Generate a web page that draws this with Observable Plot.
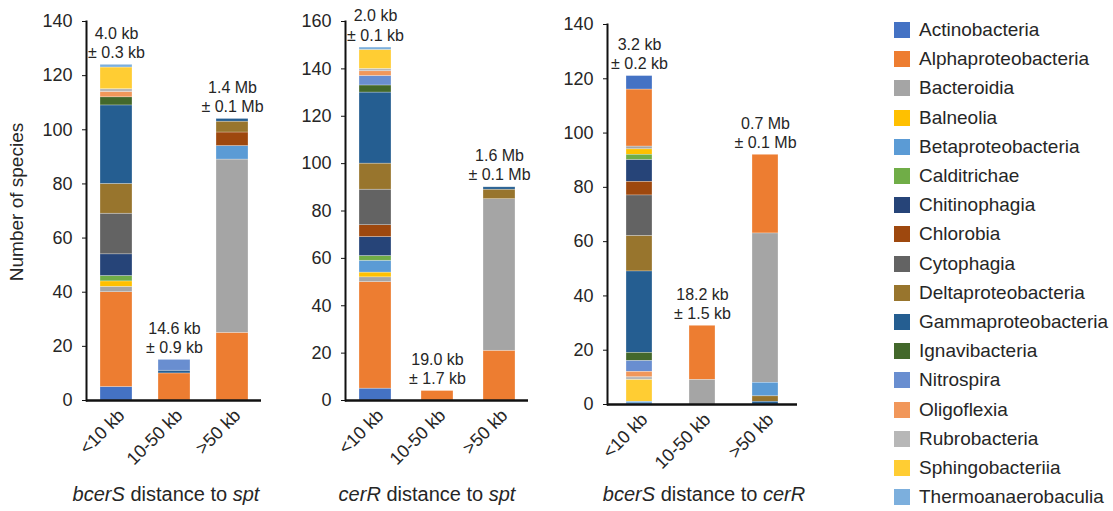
<!DOCTYPE html>
<html>
<head>
<meta charset="utf-8">
<script src="https://cdn.jsdelivr.net/npm/d3@7"></script>
<script src="https://cdn.jsdelivr.net/npm/@observablehq/plot@0.6"></script>
<style>
  body { margin: 0; background: #fff; font-family: "Liberation Sans", Arial, sans-serif; }
  #wrap { position: relative; width: 1113px; height: 511px; overflow: hidden; }
  .panel { position: absolute; top: 0; }
  #legend { position: absolute; left: 894px; top: 15.5px; color: #262626; font-size: 19px; }
  #legend .row { height: 29.2px; display: flex; align-items: center; white-space: nowrap; }
  #legend .sw { width: 16px; height: 16px; margin-right: 9px; flex: none; }
</style>
</head>
<body>
<div id="wrap"><div id="legend"></div></div>
<script>
// Taxonomic classes (stack order) and their fill colours
const classes = [
  "Actinobacteria", "Alphaproteobacteria", "Bacteroidia", "Balneolia",
  "Betaproteobacteria", "Calditrichae", "Chitinophagia", "Chlorobia",
  "Cytophagia", "Deltaproteobacteria", "Gammaproteobacteria", "Ignavibacteria",
  "Nitrospira", "Oligoflexia", "Rubrobacteria", "Sphingobacteriia", "Thermoanaerobaculia"
];
const classColors = [
  "#4472C4", "#ED7D31", "#A5A5A5", "#FFC000",
  "#5B9BD5", "#70AD47", "#264478", "#9E480E",
  "#636363", "#98752D", "#255E91", "#43682B",
  "#698ED0", "#F1975A", "#B7B7B7", "#FFCD33", "#7CAFDD"
];

// Distance bins on the x axis
const bins = ["<10 kb", "10-50 kb", ">50 kb"];

// Species counts per class (same order as `classes`), one array per bin
// bcerS distance to spt
const bcerSSpt_lt10   = [5, 35, 2, 2, 0, 2, 8, 0, 15, 11, 29, 3, 0, 2, 1, 8, 1];
const bcerSSpt_10to50 = [0, 10, 0, 0, 0, 0, 0, 0, 0, 0, 1, 0, 4, 0, 0, 0, 0];
const bcerSSpt_gt50   = [0, 25, 64, 0, 5, 0, 0, 5, 0, 4, 1, 0, 0, 0, 0, 0, 0];
const bcerSSpt_mean   = ["4.0 kb", "14.6 kb", "1.4 Mb"];
const bcerSSpt_err    = ["± 0.3 kb", "± 0.9 kb", "± 0.1 Mb"];

// cerR distance to spt
const cerRSpt_lt10   = [5, 45, 2, 2, 5, 2, 8, 5, 15, 11, 30, 3, 4, 2, 1, 8, 1];
const cerRSpt_10to50 = [0, 4, 0, 0, 0, 0, 0, 0, 0, 0, 0, 0, 0, 0, 0, 0, 0];
const cerRSpt_gt50   = [0, 21, 64, 0, 0, 0, 0, 0, 0, 4, 1, 0, 0, 0, 0, 0, 0];
const cerRSpt_mean   = ["2.0 kb", "19.0 kb", "1.6 Mb"];
const cerRSpt_err    = ["± 0.1 kb", "± 1.7 kb", "± 0.1 Mb"];

// bcerS distance to cerR
const bcerSCerR_lt10   = [5, 21, 1, 2, 0, 2, 8, 5, 15, 13, 30, 3, 4, 2, 1, 8, 1];
const bcerSCerR_10to50 = [0, 20, 9, 0, 0, 0, 0, 0, 0, 0, 0, 0, 0, 0, 0, 0, 0];
const bcerSCerR_gt50   = [0, 29, 55, 0, 5, 0, 0, 0, 0, 2, 1, 0, 0, 0, 0, 0, 0];
const bcerSCerR_mean   = ["3.2 kb", "18.2 kb", "0.7 Mb"];
const bcerSCerR_err    = ["± 0.2 kb", "± 1.5 kb", "± 0.1 Mb"];

const FONT = "'Liberation Sans', Arial, sans-serif";
const INK = "#262626";

function toRows(perBin) {
  const rows = [];
  perBin.forEach((counts, i) => {
    counts.forEach((n, j) => { if (n > 0) rows.push({bin: bins[i], cls: classes[j], n}); });
  });
  return rows;
}

function makePanel(p) {
  const rows = toRows(p.counts);
  const totals = bins.map((b, i) => ({
    bin: b,
    total: d3.sum(p.counts[i]),
    label: p.mean[i] + "\n" + p.err[i]
  }));
  const chart = Plot.plot({
    width: p.width,
    height: 511,
    marginLeft: p.ml, marginRight: p.mr, marginTop: p.mt, marginBottom: p.mb,
    style: {fontFamily: FONT, fontSize: "18px", color: INK, background: "transparent", overflow: "visible"},
    x: {domain: bins, paddingInner: p.pi, paddingOuter: p.po, label: null},
    y: {domain: [0, p.ymax], label: null},
    color: {domain: classes, range: classColors},
    marks: [
      Plot.barY(rows, Plot.stackY({reverse: p.reverse}, {
        x: "bin", y: "n", fill: "cls", stroke: "white", strokeWidth: 0.6, strokeOpacity: 0.45
      })),
      Plot.frame({anchor: "left", stroke: "#111", strokeWidth: 2}),
      Plot.ruleY([0], {stroke: "#111", strokeWidth: 2.5}),
      Plot.axisY({ticks: d3.range(0, p.ymax + 1, 20), tickSize: 4, tickPadding: 10, fontSize: 18, label: null, stroke: "#111"}),
      Plot.axisX({tickRotate: -45, tickSize: 0, tickPadding: 9, dx: 5, dy: 3, fontSize: 18, label: null}),
      Plot.text(totals, {x: "bin", y: "total", text: "label", lineAnchor: "bottom", dy: -7, fontSize: 16, lineHeight: 1.2, fill: INK})
    ]
  });
  chart.classList.add("panel");
  chart.style.left = p.left + "px";
  const svg = d3.select(chart);
  // axis title with italic gene names
  const t = svg.append("text")
    .attr("x", p.titleX).attr("y", 501)
    .attr("text-anchor", "middle")
    .attr("font-size", 20).attr("fill", INK).attr("font-family", FONT);
  p.title.forEach(([s, it]) => t.append("tspan").attr("font-style", it ? "italic" : "normal").text(s));
  if (p.yLabel) {
    svg.append("text")
      .attr("transform", "translate(23,202) rotate(-90)")
      .attr("text-anchor", "middle")
      .attr("font-size", 19).attr("fill", INK).attr("font-family", FONT)
      .text(p.yLabel);
  }
  document.getElementById("wrap").appendChild(chart);
}

makePanel({
  counts: [bcerSSpt_lt10, bcerSSpt_10to50, bcerSSpt_gt50], mean: bcerSSpt_mean, err: bcerSSpt_err,
  ymax: 140, left: 0, width: 280, ml: 86, mr: 19, mt: 21, mb: 111, pi: 0.45, po: 0.23, reverse: false,
  title: [["bcerS", true], [" distance to ", false], ["spt", true]], titleX: 166,
  yLabel: "Number of species"
});
makePanel({
  counts: [cerRSpt_lt10, cerRSpt_10to50, cerRSpt_gt50], mean: cerRSpt_mean, err: cerRSpt_err,
  ymax: 160, left: 280, width: 280, ml: 65, mr: 32, mt: 21, mb: 111, pi: 0.49, po: 0.2, reverse: false,
  title: [["cerR", true], [" distance to ", false], ["spt", true]], titleX: 147
});
makePanel({
  counts: [bcerSCerR_lt10, bcerSCerR_10to50, bcerSCerR_gt50], mean: bcerSCerR_mean, err: bcerSCerR_err,
  ymax: 140, left: 560, width: 300, ml: 47, mr: 63, mt: 24, mb: 107, pi: 0.59, po: 0.3, reverse: true,
  title: [["bcerS", true], [" distance to ", false], ["cerR", true]], titleX: 144
});

// Legend: one row per class
const legend = d3.select("#legend");
classes.forEach((c, i) => {
  const row = legend.append("div").attr("class", "row");
  row.append("div").attr("class", "sw").style("background", classColors[i]);
  row.append("span").text(c);
});
</script>
</body>
</html>
